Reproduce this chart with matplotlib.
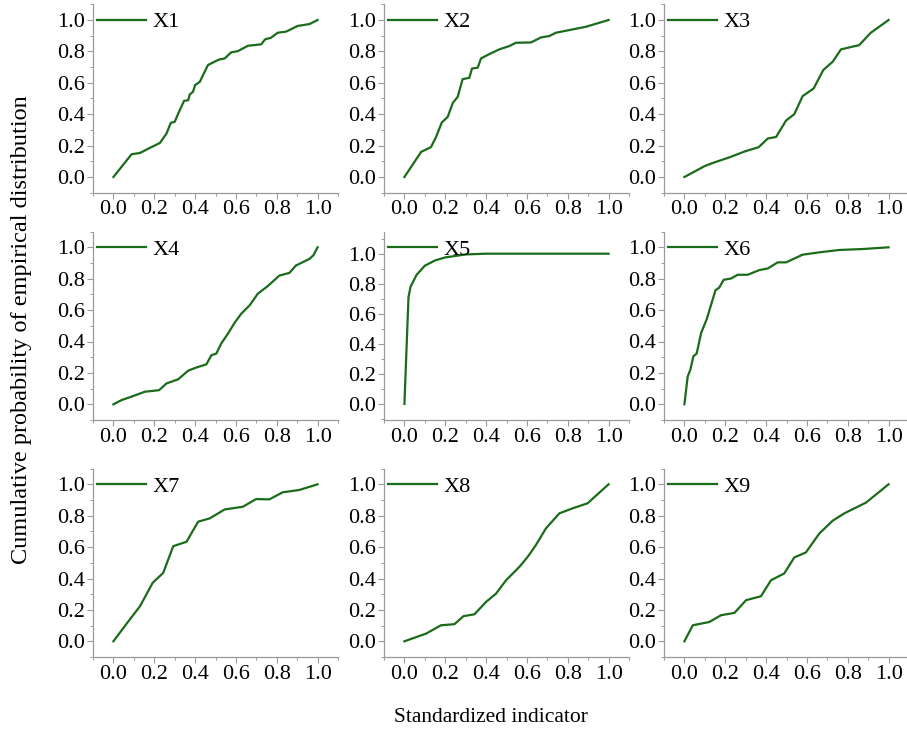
import matplotlib
matplotlib.use("Agg")
import matplotlib.pyplot as plt
import matplotlib.ticker as ticker

plt.rcParams['font.family'] = ['Liberation Serif', 'DejaVu Serif']

# curves, one pair of lists per indicator
x1 = [0, 0.089, 0.13, 0.17, 0.228, 0.26, 0.281, 0.30, 0.325, 0.346, 0.366, 0.374, 0.39, 0.40,
      0.423, 0.439, 0.463, 0.504, 0.52, 0.545, 0.577, 0.61, 0.659, 0.724, 0.743, 0.772, 0.805,
      0.846, 0.902, 0.96, 1.0]
y1 = [0, 0.145, 0.153, 0.18, 0.217, 0.277, 0.345, 0.351, 0.426, 0.485, 0.489, 0.526, 0.543, 0.585,
      0.606, 0.649, 0.713, 0.74, 0.749, 0.755, 0.794, 0.802, 0.836, 0.845, 0.877, 0.887, 0.919,
      0.926, 0.962, 0.974, 1.0]

x2 = [0, 0.082, 0.13, 0.155, 0.183, 0.212, 0.237, 0.261, 0.285, 0.318, 0.331, 0.359, 0.375,
      0.416, 0.465, 0.514, 0.546, 0.62, 0.669, 0.71, 0.742, 0.824, 0.889, 1.0]
y2 = [0, 0.16, 0.19, 0.255, 0.347, 0.383, 0.472, 0.511, 0.623, 0.632, 0.691, 0.696, 0.755,
      0.783, 0.813, 0.834, 0.855, 0.857, 0.889, 0.898, 0.919, 0.94, 0.957, 1.0]

x3 = [0, 0.1, 0.14, 0.22, 0.3, 0.364, 0.408, 0.449, 0.498, 0.538, 0.579, 0.633, 0.68, 0.726,
      0.767, 0.856, 0.913, 1.0]
y3 = [0, 0.07, 0.09, 0.125, 0.165, 0.19, 0.245, 0.255, 0.36, 0.40, 0.515, 0.564, 0.681, 0.734,
      0.813, 0.84, 0.919, 1.0]

x4 = [0, 0.04, 0.089, 0.154, 0.224, 0.26, 0.317, 0.366, 0.407, 0.455, 0.48, 0.504, 0.528, 0.561,
      0.593, 0.626, 0.667, 0.707, 0.756, 0.813, 0.862, 0.894, 0.96, 0.98, 1.0]
y4 = [0, 0.027, 0.049, 0.08, 0.09, 0.133, 0.159, 0.214, 0.235, 0.254, 0.313, 0.323, 0.387, 0.45,
      0.518, 0.577, 0.63, 0.704, 0.753, 0.82, 0.837, 0.884, 0.926, 0.95, 1.0]

x5 = [0, 0.02, 0.03, 0.06, 0.1, 0.15, 0.2, 0.25, 0.3, 0.4, 1.0]
y5 = [0, 0.711, 0.78, 0.86, 0.92, 0.955, 0.975, 0.985, 0.995, 1.0, 1.0]

x6 = [0, 0.016, 0.029, 0.044, 0.06, 0.082, 0.109, 0.152, 0.171, 0.192, 0.228, 0.261, 0.31,
      0.367, 0.408, 0.457, 0.498, 0.579, 0.661, 0.759, 0.873, 1.0]
y6 = [0, 0.177, 0.22, 0.306, 0.323, 0.455, 0.541, 0.726, 0.744, 0.793, 0.801, 0.825, 0.825,
      0.855, 0.865, 0.904, 0.904, 0.953, 0.968, 0.983, 0.989, 1.0]

x7 = [0, 0.065, 0.13, 0.192, 0.244, 0.293, 0.358, 0.415, 0.472, 0.545, 0.634, 0.699, 0.764,
      0.829, 0.911, 1.0]
y7 = [0, 0.113, 0.223, 0.372, 0.436, 0.606, 0.634, 0.762, 0.783, 0.84, 0.857, 0.906, 0.904,
      0.949, 0.964, 1.0]

x8 = [0, 0.106, 0.179, 0.245, 0.289, 0.343, 0.4, 0.449, 0.498, 0.563, 0.604, 0.644, 0.693,
      0.759, 0.824, 0.897, 1.0]
y8 = [0, 0.049, 0.102, 0.109, 0.16, 0.172, 0.251, 0.304, 0.389, 0.474, 0.538, 0.613, 0.719,
      0.815, 0.847, 0.879, 1.0]

x9 = [0, 0.041, 0.122, 0.179, 0.245, 0.302, 0.375, 0.424, 0.489, 0.538, 0.595, 0.661, 0.726,
      0.783, 0.889, 1.0]
y9 = [0, 0.102, 0.123, 0.166, 0.181, 0.262, 0.287, 0.389, 0.432, 0.534, 0.566, 0.687, 0.768,
      0.815, 0.883, 1.0]

names = ["X1", "X2", "X3", "X4", "X5", "X6", "X7", "X8", "X9"]
series = [(x1, y1), (x2, y2), (x3, y3), (x4, y4), (x5, y5), (x6, y6), (x7, y7), (x8, y8), (x9, y9)]
tick_vals = [0.0, 0.2, 0.4, 0.6, 0.8, 1.0]

W, H = 907, 735
col_left = [93, 384, 664]
row_bottom = [192.7, 420, 657]
ax_w, ax_h = 245, 188.4
green = "#1a6b1a"
spine_col = "#9a9a9a"

fig = plt.figure(figsize=(W / 100, H / 100), dpi=100)

for i, (name, (xs, ys)) in enumerate(zip(names, series)):
    r, c = divmod(i, 3)
    ax = fig.add_axes([col_left[c] / W, 1 - row_bottom[r] / H, ax_w / W, ax_h / H])
    ax.plot(xs, ys, color=green, lw=1.6, label=name)
    ax.set_xlim(-0.1, 1.1)
    if name == "X5":
        ax.set_ylim(-0.107, 1.147)
    else:
        ax.set_ylim(-0.1, 1.1)
    ax.set_xticks(tick_vals)
    ax.set_yticks(tick_vals)
    ax.xaxis.set_minor_locator(ticker.MultipleLocator(0.1))
    ax.yaxis.set_minor_locator(ticker.MultipleLocator(0.1))
    ax.xaxis.set_major_formatter(ticker.FormatStrFormatter("%.1f"))
    ax.yaxis.set_major_formatter(ticker.FormatStrFormatter("%.1f"))
    for s in ("top", "right"):
        ax.spines[s].set_visible(False)
    for s in ("left", "bottom"):
        ax.spines[s].set_color(spine_col)
        ax.spines[s].set_linewidth(0.9)
    ax.tick_params(which="major", direction="out", length=4, width=0.8, color=spine_col,
                   labelsize=16, pad=1.5)
    ax.tick_params(which="minor", direction="out", length=2.5, width=0.7, color=spine_col)
    ax.legend(loc="center left", bbox_to_anchor=(0.015, 0.905), frameon=False, fontsize=16,
              borderaxespad=0, borderpad=0, handlelength=2.2, handletextpad=0.3)

fig.text(22 / W, 1 - 330 / H, "Cumulative probability of empirical distribution",
         rotation=90, ha="center", va="center", fontsize=17.5)
fig.text(491 / W, 1 - 718 / H, "Standardized indicator", ha="center", va="center", fontsize=15.5)

fig.savefig("out.png", dpi=100)
